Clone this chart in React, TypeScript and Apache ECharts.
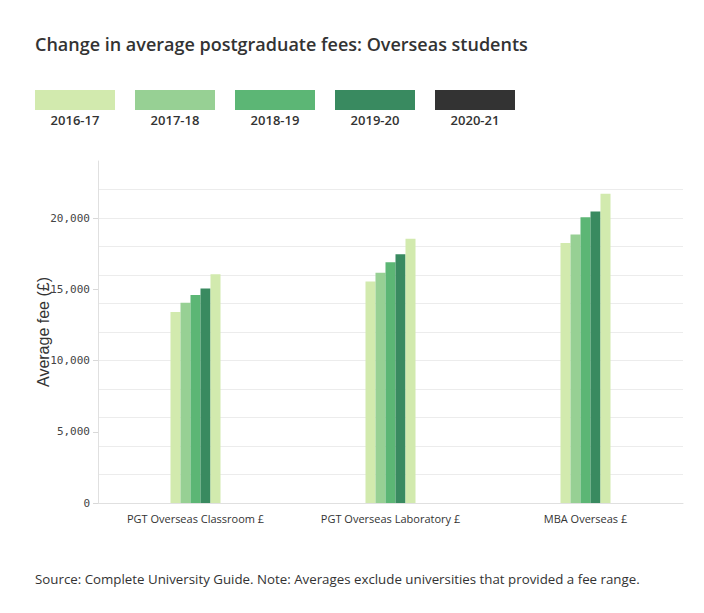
import React, { useEffect, useRef } from "react";
import * as echarts from "echarts";

const categories = ["PGT Overseas Classroom £", "PGT Overseas Laboratory £", "MBA Overseas £"];
const seriesNames = ["2016-17", "2017-18", "2018-19", "2019-20", "2020-21"];
const fees2016 = [13400, 15550, 18250];
const fees2017 = [14050, 16150, 18850];
const fees2018 = [14600, 16900, 20050];
const fees2019 = [15050, 17450, 20450];
const fees2020 = [16050, 18550, 21700];
const seriesValues = [fees2016, fees2017, fees2018, fees2019, fees2020];
const barColors = ["#d2eaae", "#97d094", "#5cb675", "#398a60", "#d2eaae"];
const legendColors = ["#d2eaae", "#97d094", "#5cb675", "#398a60", "#333333"];
const yLabelTicks = [0, 5000, 10000, 15000, 20000];

const titleText = "Change in average postgraduate fees: Overseas students";
const footText = "Source: Complete University Guide. Note: Averages exclude universities that provided a fee range.";

export default function App() {
  const ref = useRef<HTMLDivElement>(null);
  useEffect(() => {
    document.body.style.margin = "0";
    const chart = echarts.init(ref.current!, null, { renderer: "svg" });
    const font = "'Open Sans', 'Noto Sans', sans-serif";
    const legendGraphics: any[] = [];
    seriesNames.forEach((name, i) => {
      legendGraphics.push({
        type: "rect",
        left: 35 + i * 100,
        top: 90,
        shape: { width: 80, height: 20 },
        style: { fill: legendColors[i] },
      });
      legendGraphics.push({
        type: "text",
        x: 75 + i * 100,
        y: 120,
        style: {
          text: name,
          fill: "#333",
          font: `600 13px ${font}`,
          textAlign: "center",
          textVerticalAlign: "middle",
        },
      });
    });
    chart.setOption({
      animation: false,
      backgroundColor: "#fff",
      title: {
        text: titleText,
        left: 30,
        top: 30,
        textStyle: { fontFamily: font, fontSize: 18, fontWeight: 600, color: "#333" },
      },
      graphic: [
        ...legendGraphics,
        {
          type: "text",
          x: 35,
          y: 579,
          style: {
            text: footText,
            fill: "#333",
            font: `13.3px ${font}`,
            textVerticalAlign: "middle",
          },
        },
      ],
      grid: { left: 98, right: 21, top: 161, bottom: 110, containLabel: false },
      xAxis: {
        type: "category",
        data: categories,
        axisLine: { lineStyle: { color: "#e0e0e0" } },
        axisTick: { alignWithLabel: true, length: 5, lineStyle: { color: "#d8d8d8" } },
        axisLabel: { color: "#333", fontFamily: font, fontSize: 11, margin: 10 },
      },
      yAxis: [
        {
          type: "value",
          min: 0,
          max: 24000,
          interval: 2000,
          axisLine: { show: false },
          axisTick: { show: false },
          axisLabel: { show: false },
          splitLine: { show: true, showMinLine: false, showMaxLine: false, lineStyle: { color: "#ececec" } },
        },
        {
          type: "value",
          min: 0,
          max: 24000,
          interval: 5000,
          position: "left",
          name: "Average fee (£)",
          nameLocation: "middle",
          nameGap: 47,
          nameMoveOverlap: false,
          nameTextStyle: { color: "#333", fontFamily: "'Liberation Sans', Arial, sans-serif", fontSize: 16 },
          axisLine: { show: true, lineStyle: { color: "#e0e0e0" } },
          axisTick: { show: true, length: 5, customValues: yLabelTicks, lineStyle: { color: "#d8d8d8" } },
          axisLabel: {
            color: "#444",
            fontFamily: "'DejaVu Sans Mono', monospace",
            fontSize: 11,
            margin: 8,
            showMaxLabel: false,
            formatter: (v: number) => (v > 20000 ? "" : v.toLocaleString("en-US")),
          },
          splitLine: { show: false },
        },
      ],
      series: seriesNames.map((name, i) => ({
        name,
        type: "bar",
        yAxisIndex: 0,
        data: seriesValues[i],
        barWidth: 10,
        barGap: "0%",
        itemStyle: { color: barColors[i] },
      })),
    });
    return () => chart.dispose();
  }, []);
  return <div ref={ref} style={{ width: 704, height: 613 }} />;
}
